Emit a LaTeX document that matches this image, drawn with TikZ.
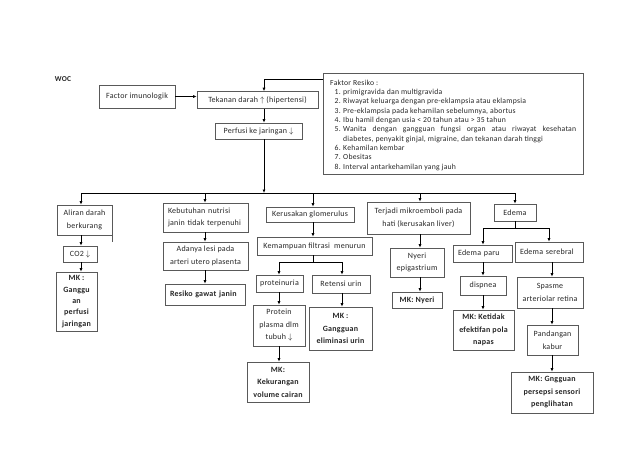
\documentclass[tikz,border=0pt]{standalone}
\usepackage{fontspec}
\setmainfont{Carlito}[LetterSpace=3]
\usetikzlibrary{arrows.meta}
\newcommand{\itm}[1]{\hspace*{4.5pt}\makebox[8.5pt][l]{#1}}
\begin{document}
\begin{tikzpicture}[x=1pt,y=-1pt,
  every node/.style={font=\fontsize{8}{12.5}\selectfont, inner sep=0pt, text=black!85},
  bx/.style={draw=black!65, line width=0.6pt, align=center},
  mk/.style={bx, font=\fontsize{8}{12.5}\selectfont\bfseries},
  lbx/.style={bx, align=left, inner xsep=5pt},
  arr/.style={line width=0.9pt, -{Latex[length=3.5pt,width=3pt]}},
  ln/.style={line width=0.9pt}]
\useasboundingbox (0,0) rectangle (638,451);
% nodes
\node[font=\fontsize{7.5}{9}\selectfont\bfseries] (woc) at (63,79) {WOC};
\node[bx, minimum width=76pt, minimum height=23pt] (factor) at (137,96.5) {Factor imunologik};
\node[bx, minimum width=121pt, minimum height=17pt] (tekanan) at (257.5,100) {Tekanan darah $\uparrow$ (hipertensi)};
\node[bx, minimum width=87pt, minimum height=16pt] (perfusi) at (258.5,131) {Perfusi ke jaringan $\downarrow$};
\node[bx, minimum width=260pt, minimum height=101pt] (faktor) at (453,123.5) {};
\node[anchor=north west, align=left, font=\fontsize{7.7}{9.35}\selectfont] (ftext) at (330,79.5) {Faktor Resiko :\\
\itm{1.}primigravida dan multigravida\\
\itm{2.}Riwayat keluarga dengan pre-eklampsia atau eklampsia\\
\itm{3.}Pre-eklampsia pada kehamilan sebelumnya, abortus\\
\itm{4.}Ibu hamil dengan usia < 20 tahun atau > 35 tahun\\
\itm{5.}\hbox to 233pt{Wanita\hfill dengan\hfill gangguan\hfill fungsi\hfill organ\hfill atau\hfill riwayat\hfill kesehatan}\\
\hspace*{13pt}diabetes, penyakit ginjal, migraine, dan tekanan darah tinggi\\
\itm{6.}Kehamilan kembar\\
\itm{7.}Obesitas\\
\itm{8.}Interval antarkehamilan yang jauh};
% column 1
\node[bx, minimum width=55pt, minimum height=30pt] (aliran) at (84.5,220) {Aliran darah\\berkurang};
\node[bx, minimum width=34pt, minimum height=16pt] (co2) at (80,254) {CO2 $\downarrow$};
\node[mk, minimum width=41pt, minimum height=59pt, font=\fontsize{8}{11.3}\selectfont\bfseries] (mk1) at (76.5,301.5) {MK :\\Ganggu\\an\\perfusi\\jaringan};
% column 2
\node[lbx, text width=75pt, minimum height=29pt] (kebutuhan) at (205.5,217.5) {Kebutuhan nutrisi\\janin tidak terpenuhi};
\node[bx, minimum width=85pt, minimum height=28pt] (adanya) at (205.5,256) {Adanya lesi pada\\arteri utero plasenta};
\node[lbx, text width=70pt, minimum height=21pt, font=\fontsize{8}{12.5}\selectfont\bfseries] (resiko) at (205,294.5) {Resiko gawat janin};
% column 3
\node[bx, minimum width=88pt, minimum height=15pt] (kerusakan) at (310,214.5) {Kerusakan glomerulus};
\node[bx, minimum width=115pt, minimum height=18pt] (kemampuan) at (314.5,246) {Kemampuan filtrasi\ \ menurun};
\node[bx, minimum width=47pt, minimum height=17pt] (proteinuria) at (279.5,283.5) {proteinuria};
\node[bx, minimum width=58pt, minimum height=18pt] (retensi) at (341,284) {Retensi urin};
\node[bx, minimum width=52pt, minimum height=41pt] (protein) at (279,325.5) {Protein\\plasma dlm\\tubuh $\downarrow$};
\node[mk, minimum width=63pt, minimum height=43pt] (mk2) at (340.5,328.5) {MK :\\Gangguan\\eliminasi urin};
\node[mk, minimum width=62pt, minimum height=40pt] (mk3) at (278,382) {MK:\\Kekurangan\\volume cairan};
% column 4
\node[bx, minimum width=103pt, minimum height=32pt] (terjadi) at (418.5,218) {Terjadi mikroemboli pada\\hati (kerusakan liver)};
\node[bx, minimum width=54pt, minimum height=29pt] (nyeri) at (417,262.5) {Nyeri\\epigastrium};
\node[mk, minimum width=50pt, minimum height=16pt] (mknyeri) at (417,300) {MK: Nyeri};
% column 5
\node[bx, minimum width=42pt, minimum height=17pt] (edema) at (515,212.5) {Edema};
\node[lbx, text width=49pt, minimum height=17pt] (paru) at (482.5,253.5) {Edema paru};
\node[lbx, text width=58pt, minimum height=20pt] (serebral) at (549,252) {Edema serebral};
\node[bx, minimum width=46pt, minimum height=19pt] (dispnea) at (483,285.5) {dispnea};
\node[mk, minimum width=61pt, minimum height=40pt] (mk4) at (483.5,330) {MK: Ketidak\\efektifan pola\\napas};
\node[bx, minimum width=66pt, minimum height=31pt] (spasme) at (550,292.5) {Spasme\\arteriolar retina};
\node[bx, minimum width=51pt, minimum height=30pt] (pandangan) at (552.5,340) {Pandangan\\kabur};
\node[mk, minimum width=82pt, minimum height=41pt] (mk5) at (552,392.5) {MK: Gngguan\\persepsi sensori\\penglihatan};
% connectors top
\coordinate (j1) at (264,79);
\draw[arr] (faktor.west |- j1) -- (j1) -- (j1 |- tekanan.north);
\draw[arr] (factor.east) -- (factor.east -| tekanan.west);
\draw[arr] (tekanan.south -| j1) -- (perfusi.north -| j1);
\coordinate (bus) at (264,193);
\draw[arr] (perfusi.south -| bus) -- (bus);
\coordinate (bL) at (81,193);
\coordinate (b2) at (205,193);
\coordinate (b3) at (313,193);
\coordinate (b4) at (420,193);
\coordinate (bR) at (515,193);
\draw[ln] (bL) -- (bR);
% column 1
\draw[arr] (bL) -- (bL |- aliran.north);
\draw[arr] (aliran.south -| bL) -- (co2.north -| bL);
\draw[arr] (co2.south -| bL) -- (mk1.north -| bL);
\draw[draw=black!65, line width=0.6pt] (aliran.south east) -- ++(0,7);
% column 2
\draw[arr] (b2) -- (b2 |- kebutuhan.north);
\draw[arr] (kebutuhan.south -| b2) -- (adanya.north -| b2);
\draw[arr] (adanya.south -| b2) -- (resiko.north -| b2);
% column 3
\draw[arr] (b3) -- (b3 |- kerusakan.north);
\draw[arr] (kerusakan.south -| b3) -- (kemampuan.north -| b3);
\coordinate (s1) at (313,262);
\coordinate (pL) at (279,262);
\coordinate (pR) at (342,262);
\draw[ln] (kemampuan.south -| s1) -- (s1);
\draw[ln] (pL) -- (pR);
\draw[arr] (pL) -- (pL |- proteinuria.north);
\draw[arr] (pR) -- (pR |- retensi.north);
\draw[arr] (proteinuria.south -| pL) -- (protein.north -| pL);
\draw[arr] (protein.south -| pL) -- (mk3.north -| pL);
\draw[arr] (retensi.south -| pR) -- (mk2.north -| pR);
% column 4
\draw[arr] (b4) -- (b4 |- terjadi.north);
\draw[arr] (terjadi.south -| b4) -- (nyeri.north -| b4);
\draw[arr] (nyeri.south -| b4) -- (mknyeri.north -| b4);
% column 5
\draw[arr] (bR) -- (bR |- edema.north);
\coordinate (e1) at (515,228);
\coordinate (eL) at (483,228);
\coordinate (eR) at (549,228);
\coordinate (c5) at (552,228);
\draw[ln] (edema.south -| e1) -- (e1);
\draw[ln] (eL) -- (eR);
\draw[arr] (eL) -- (eL |- paru.north);
\draw[arr] (eR) -- (eR |- serebral.north);
\draw[arr] (paru.south -| eL) -- (dispnea.north -| eL);
\draw[arr] (dispnea.south -| eL) -- (mk4.north -| eL);
\draw[arr] (serebral.south -| c5) -- (spasme.north -| c5);
\draw[arr] (spasme.south -| c5) -- (pandangan.north -| c5);
\draw[arr] (pandangan.south -| c5) -- (mk5.north -| c5);
\end{tikzpicture}
\end{document}
